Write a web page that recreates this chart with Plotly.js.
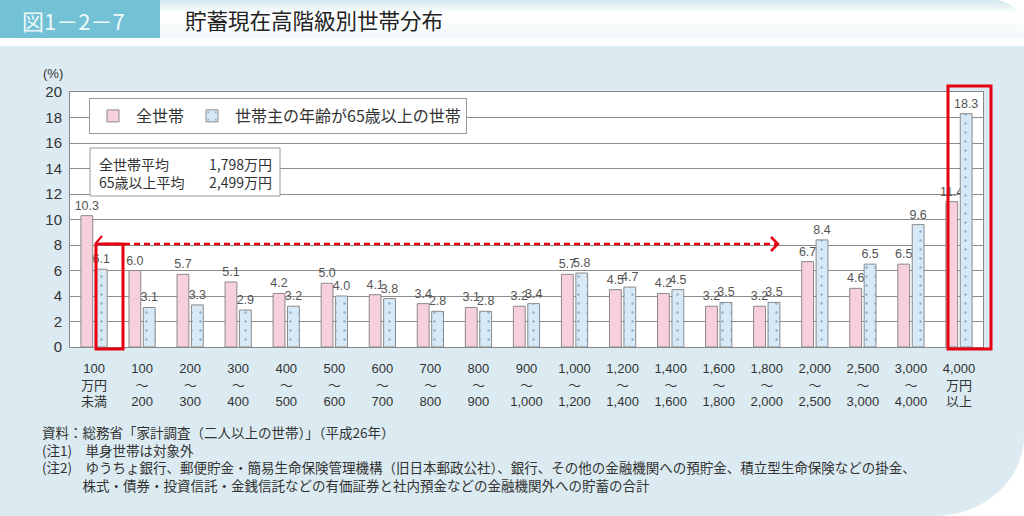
<!DOCTYPE html>
<html><head><meta charset="utf-8">
<script src="https://cdn.plot.ly/plotly-3.0.1.min.js"></script>
<style>
body{margin:0;width:1024px;height:516px;overflow:hidden;background:#fff;position:relative;}
#hl{position:absolute;left:0;top:0;width:160px;height:38px;background:#72c1d5;}
#hr{position:absolute;left:160px;top:0;right:0;height:38px;background:linear-gradient(180deg,#cfe7ee 0%,#ffffff 35%,#f2f8fa 100%);border-top-right-radius:30px;}
#panel{position:absolute;left:0;top:46px;right:0;bottom:0;background:#dcebf1;border-bottom-right-radius:90px 80px;}
#chart{position:absolute;left:0;top:0;width:1024px;height:516px;}
</style></head><body>
<div id="hl"></div><div id="hr"></div><div id="panel"></div><div id="chart"></div>
<script>
const categories = ['100<br>万円<br>未満','100<br>～<br>200','200<br>～<br>300','300<br>～<br>400','400<br>～<br>500','500<br>～<br>600','600<br>～<br>700','700<br>～<br>800','800<br>～<br>900','900<br>～<br>1,000','1,000<br>～<br>1,200','1,200<br>～<br>1,400','1,400<br>～<br>1,600','1,600<br>～<br>1,800','1,800<br>～<br>2,000','2,000<br>～<br>2,500','2,500<br>～<br>3,000','3,000<br>～<br>4,000','4,000<br>万円<br>以上'];
const allHouseholds = [10.3,6.0,5.7,5.1,4.2,5.0,4.1,3.4,3.1,3.2,5.7,4.5,4.2,3.2,3.2,6.7,4.6,6.5,11.4];
const elderlyHouseholds = [6.1,3.1,3.3,2.9,3.2,4.0,3.8,2.8,2.8,3.4,5.8,4.7,4.5,3.5,3.5,8.4,6.5,9.6,18.3];
const seriesNames = ['全世帯','世帯主の年齢が65歳以上の世帯'];
const yTicks = [0,2,4,6,8,10,12,14,16,18,20];
const infoLabels = ['全世帯平均','65歳以上平均'];
const infoValues = ['1,798万円','2,499万円'];
const figTitle = '貯蓄現在高階級別世帯分布';
const figNumber = '図1－2－7';
const notes = [
  '資料：総務省「家計調査（二人以上の世帯）」（平成26年）',
  '(注1)　単身世帯は対象外',
  '(注2)　ゆうちょ銀行、郵便貯金・簡易生命保険管理機構（旧日本郵政公社）、銀行、その他の金融機関への預貯金、積立型生命保険などの掛金、',
  '　　　株式・債券・投資信託・金銭信託などの有価証券と社内預金などの金融機関外への貯蓄の合計'
];

const L=70,R=983,T=92,B=347;
const px = x => (x-L)/(R-L);
const py = y => (B-y)/(B-T);
const NUM = 'Liberation Sans, Noto Sans CJK JP, sans-serif';
const JP = 'Noto Sans CJK JP, sans-serif';
const RED = '#e60012';

const traces = [
  {type:'bar', name:seriesNames[0], x:categories, y:allHouseholds,
   marker:{color:'#f7cfdd', line:{color:'#8a8a8a', width:1}},
   text:allHouseholds.map(v=>v.toFixed(1)), textposition:'outside', textangle:0,
   constraintext:'none', cliponaxis:false,
   textfont:{family:NUM, size:12.5, color:'#555'}, hoverinfo:'skip'},
  {type:'bar', name:seriesNames[1], x:categories, y:elderlyHouseholds,
   marker:{color:'#d7e9f7', line:{color:'#8a8a8a', width:1},
           pattern:{shape:'.', fgcolor:'#8fb0cc', bgcolor:'#d7e9f7', size:9, solidity:0.06}},
   text:elderlyHouseholds.map(v=>v.toFixed(1)), textposition:'outside', textangle:0,
   constraintext:'none', cliponaxis:false,
   textfont:{family:NUM, size:12.5, color:'#555'}, hoverinfo:'skip'}
];

const ann = (text, x, y, xanchor, font, yanchor, align) => ({text, xref:'paper', yref:'paper', x:px(x), y:py(y), xanchor, yanchor:yanchor||'middle', align:align||'left', showarrow:false, font});
const annotations = [
  ann('(%)', 53, 73, 'center', {family:NUM,size:13,color:'#333'}),
  ann(figNumber, 20, 20, 'left', {family:JP,size:22,color:'#eef8fb'}),
  ann(figTitle, 183, 20, 'left', {family:JP,size:21.5,color:'#222'}),
  ann(notes.join('<br>'), 40, 420, 'left', {family:JP,size:13.5,color:'#333'}, 'top'),
  ann(infoLabels.join('<br>'), 97, 173, 'left', {family:JP,size:14,color:'#333'}),
  ann(infoValues.join('<br>'), 274, 173, 'right', {family:JP,size:14,color:'#333'}, 'middle', 'right')
];

const shapes = [
  {type:'rect', xref:'paper', yref:'paper', x0:px(90), x1:px(280), y0:py(196), y1:py(148), fillcolor:'#fff', line:{color:'#999', width:1}, layer:'above'},
  {type:'rect', xref:'paper', yref:'paper', x0:px(96), x1:px(123), y0:py(349), y1:py(244), line:{color:RED, width:3}, layer:'above'},
  {type:'rect', xref:'paper', yref:'paper', x0:px(948), x1:px(991), y0:py(349), y1:py(86), line:{color:RED, width:3}, layer:'above'},
  {type:'line', xref:'paper', yref:'paper', x0:px(104), x1:px(777), y0:py(244), y1:py(244), line:{color:RED, width:2.5, dash:'6px,4px'}, layer:'above'},
  {type:'path', xref:'paper', yref:'paper', path:`M ${px(771)},${py(237)} L ${px(778)},${py(244)} L ${px(771)},${py(251)}`, line:{color:RED, width:2.5}, layer:'above'},
  {type:'line', xref:'paper', yref:'paper', x0:px(96), x1:px(102), y0:py(243), y1:py(236), line:{color:RED, width:2}, layer:'above'}
];

const layout = {
  width:1024, height:516,
  margin:{l:L, r:1024-R, t:T, b:516-B},
  paper_bgcolor:'rgba(0,0,0,0)', plot_bgcolor:'#fff',
  barmode:'group', bargap:0.4, bargroupgap:0.18,
  showlegend:true,
  legend:{orientation:'h', x:px(89), y:py(98), xanchor:'left', yanchor:'top',
          bgcolor:'#fff', bordercolor:'#999', borderwidth:1,
          font:{family:JP, size:16, color:'#333'}, itemwidth:36, traceorder:'normal'},
  xaxis:{type:'category', showgrid:false, showline:true, mirror:true, linecolor:'#888', linewidth:1,
         ticks:'', ticklabelstandoff:9, tickfont:{family:NUM, size:13, color:'#333'}, fixedrange:true},
  yaxis:{range:[0,20], tickvals:yTicks, showgrid:true, gridcolor:'#8c8c8c', gridwidth:1,
         showline:true, mirror:true, linecolor:'#888', linewidth:1, zeroline:false,
         ticks:'', ticklabelstandoff:4, tickfont:{family:NUM, size:15, color:'#333'}, fixedrange:true},
  annotations, shapes
};
Plotly.newPlot('chart', traces, layout, {staticPlot:true, displayModeBar:false});
</script></body></html>
